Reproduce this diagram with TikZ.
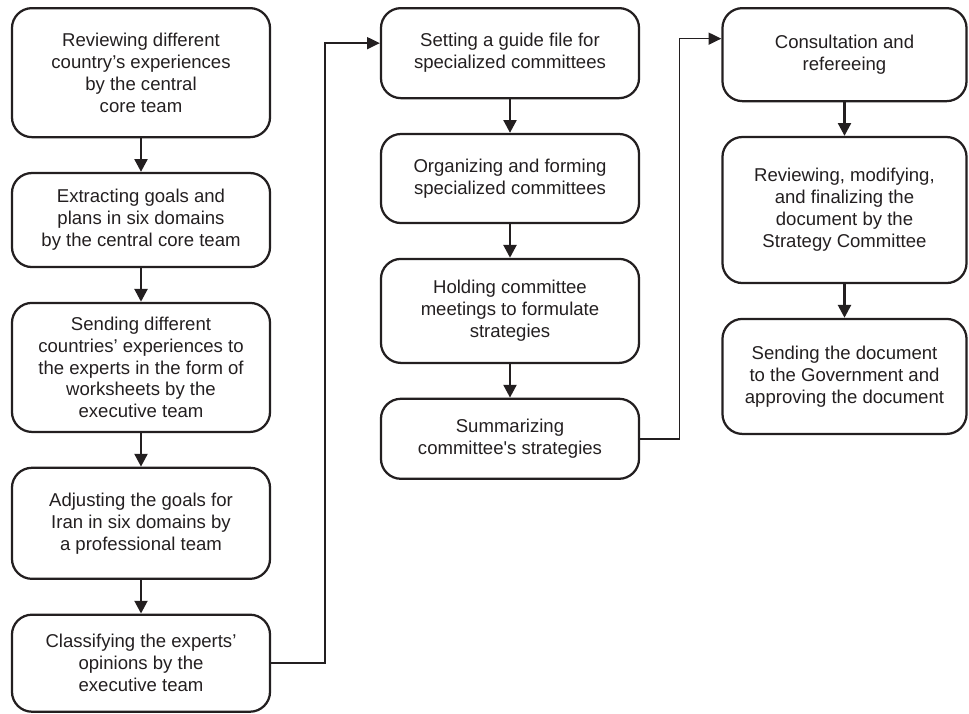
\documentclass[tikz,border=0pt]{standalone}
\usepackage{fontspec}
\setmainfont{Liberation Sans}
\usepackage{xcolor}
\usetikzlibrary{arrows.meta,positioning}
\definecolor{cInk}{RGB}{35,31,32}

\begin{document}
\begin{tikzpicture}[
  x=0.025cm, y=-0.025cm,
  box/.style={draw=cInk, line width=1.6pt, rounded corners=0.5cm, align=center,
    text=cInk, font=\fontsize{13.2}{15.6}\selectfont, inner sep=2pt},
  colA/.style={box, minimum width=6.45cm},
  colC/.style={box, minimum width=6.1cm},
  down/.style={draw=cInk, line width=1.9pt, -{Triangle[length=0.32cm, width=0.32cm]}},
  link/.style={draw=cInk, line width=1.1pt, -{Triangle[length=0.32cm, width=0.3cm]}},
]
  \useasboundingbox (0,0) rectangle (969,713);

  % first column
  \node[colA, minimum height=3.225cm, anchor=north] at (141,7) (review)
    {Reviewing different\\country’s experiences\\by the central\\core team};
  \node[colA, minimum height=2.35cm, below=0.84cm of review] (extract)
    {Extracting goals and\\plans in six domains\\by the central core team};
  \node[colA, minimum height=3.225cm, below=0.84cm of extract] (sendexp)
    {Sending different\\countries’ experiences to\\the experts in the form of\\worksheets by the\\executive team};
  \node[colA, minimum height=2.775cm, below=0.84cm of sendexp] (adjust)
    {Adjusting the goals for\\Iran in six domains by\\a professional team};
  \node[colA, minimum height=2.425cm, below=0.84cm of adjust] (classify)
    {Classifying the experts’\\opinions by the\\executive team};

  % second column
  \node[colA, minimum height=2.25cm, anchor=north] at (510,7) (guide)
    {Setting a guide file for\\specialized committees};
  \node[colA, minimum height=2.225cm, below=0.84cm of guide] (organize)
    {Organizing and forming\\specialized committees};
  \node[colA, minimum height=2.6cm, below=0.84cm of organize] (meeting)
    {Holding committee\\meetings to formulate\\strategies};
  \node[colA, minimum height=2.0cm, below=0.84cm of meeting] (summary)
    {Summarizing\\committee\textquotesingle s strategies};

  % third column
  \node[colC, minimum height=2.325cm, anchor=north] at (844.5,7) (consult)
    {Consultation and\\refereeing};
  \node[colC, minimum height=3.65cm, below=0.84cm of consult] (finalize)
    {Reviewing, modifying,\\and finalizing the\\document by the\\Strategy Committee};
  \node[colC, minimum height=2.875cm, below=0.84cm of finalize] (approve)
    {Sending the document\\to the Government and\\approving the document};

  \draw[down] (review) -- (extract);
  \draw[down] (extract) -- (sendexp);
  \draw[down] (sendexp) -- (adjust);
  \draw[down] (adjust) -- (classify);
  \draw[down] (guide) -- (organize);
  \draw[down] (organize) -- (meeting);
  \draw[down] (meeting) -- (summary);
  \draw[down] (consult) -- (finalize);
  \draw[down] (finalize) -- (approve);

  \draw[link] (classify.east) -| ([xshift=-1.375cm, yshift=0.25cm]guide.west) -- ([yshift=0.25cm]guide.west);
  \draw[link] (summary.east) -| ([xshift=-1.05cm, yshift=0.4cm]consult.west) -- ([yshift=0.4cm]consult.west);
\end{tikzpicture}
\end{document}
